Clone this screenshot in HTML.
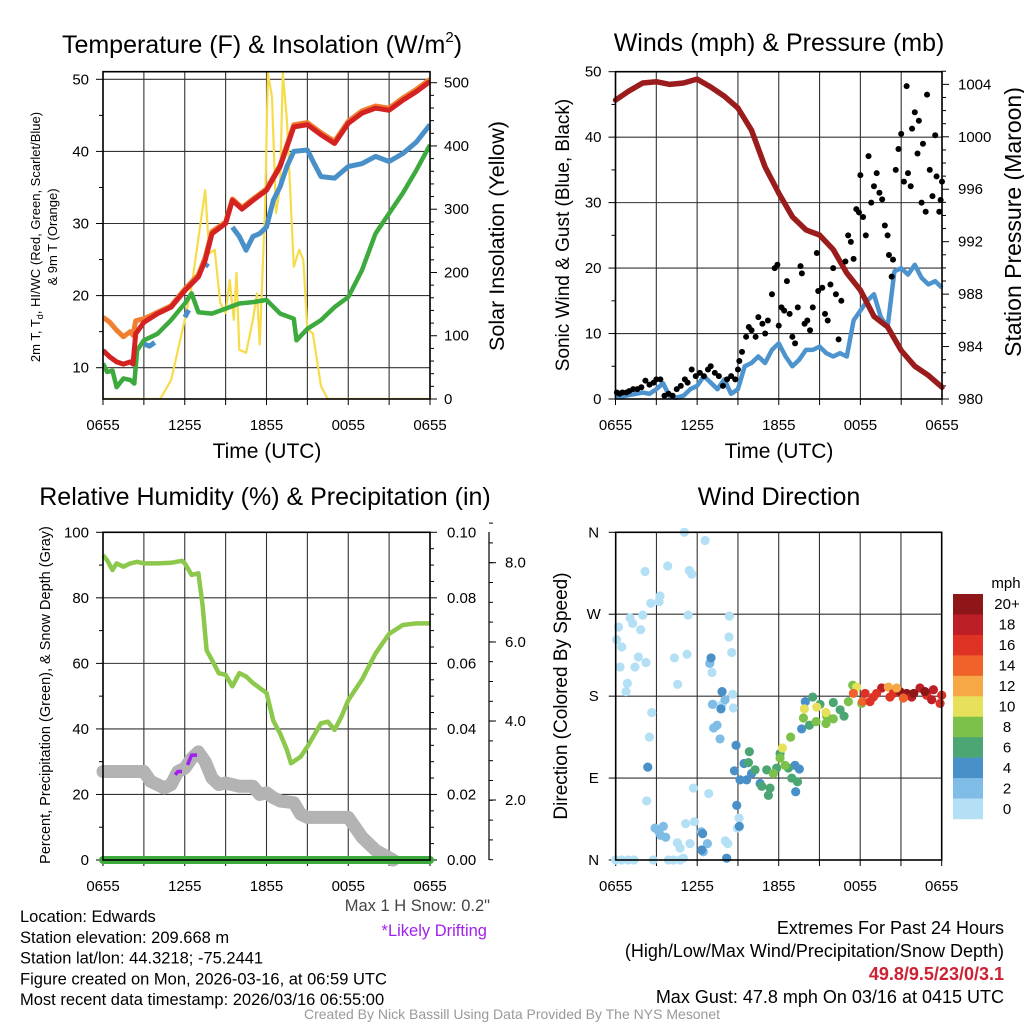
<!DOCTYPE html>
<html><head><meta charset="utf-8"><style>
html,body{margin:0;padding:0;background:#fff}
svg{display:block;font-family:"Liberation Sans",sans-serif}
</style></head><body>
<svg id="c" width="1024" height="1024" viewBox="0 0 1024 1024">
<rect width="1024" height="1024" fill="#fff"/>
</svg>
<script>
// ---- Data: temperature panel ----
const TEMP_T = [0,0.5,1,1.5,2,2.2,2.4,3,4,5,6,7,7.5,8,9,9.5,10.2,11,12,13,14,15,16,17,18,19,20,21,22,23,24];
const TEMP_2M = [12.4,11.5,10.8,10.5,10.8,10.5,14.7,16.3,17.5,18.4,20.7,22.6,24.9,28.6,30,33.2,32,33.2,34.6,37.9,43.4,43.7,42.3,41.1,43.9,45.3,46,45.7,47.1,48.3,49.7];
const TEMP_9M = [17,16.3,15.2,14.3,15,14.5,16.5,16.8,17.7,18.6,20.9,22.9,25.3,28.9,30.2,33.4,32.2,33.4,34.8,38.1,43.7,44,42.6,41.4,44.2,45.6,46.3,46,47.4,48.6,50];
const DEW_T = [0,0.3,0.7,1,1.5,2,2.3,2.5,3,4,5,6,6.5,7,8,9,10,11,12,13,14,14.2,15,16,17,18,19,20,21,22,23,24];
const DEW = [10.6,9.4,9.6,7.3,8.5,8.3,7.8,12.4,13.8,14.7,16.6,18.9,20.3,17.7,17.5,18.2,18.9,19.1,19.4,17.5,16.8,13.8,15.4,16.6,18.4,19.8,23.5,28.6,31.4,34.2,37.4,40.9];
const WC_T = [3,3.4,3.8,3.9,6.0,6.3,6.4,7.5,7.7,7.8,9.5,10,10.5,11,11.5,12,12.5,13,13.5,14,15,15.5,16,17,18,19,20,21,22,23,24];
const WC = [13.3,13,13.5,null,17,18,null,24,24.5,null,29.5,28.2,26.3,28.2,28.6,29.5,33.2,35.1,37.9,40,40.2,38.3,36.5,36.3,37.9,38.3,39.3,38.6,39.7,41.3,43.7];
const SOL_T = [0,4.2,5,6,6.5,7.5,7.8,8.2,8.6,9,9.3,9.6,9.8,10,10.5,11,11.3,11.5,11.9,12.1,12.4,12.7,13,13.2,13.5,14,14.4,14.7,15,15.4,16,16.5,24];
const SOLAR = [0,0,30,125,178,330,230,236,152,136,188,125,199,78,73,125,167,86,304,515,478,294,336,515,441,209,236,220,109,104,20,0,0];
// ---- Data: wind / pressure panel ----
const PRES_T = [0,1,2,3,4,5,6,7,8,9,10,11,12,13,14,15,16,17,18,19,20,21,22,23,24];
const PRES = [1002.8,1003.5,1004.1,1004.2,1004,1004.1,1004.4,1003.8,1003.1,1002.2,1000.5,997.7,995.7,993.9,992.9,992.5,991.4,989.6,988.3,986.3,985.5,983.7,982.5,981.8,980.9];
const WIND = [0.5,0.4,0.6,0.8,1.0,0.8,1.5,2.4,0.3,0.2,0.5,1.5,2.0,3.5,2.5,1.5,3.0,0.8,1.5,5.0,5.5,6.5,5.5,7.5,8.5,6.5,5.0,6.0,7.5,7.5,8.0,7.0,6.5,7.0,6.5,12.0,13.5,15.0,16.0,12.5,11.0,19.5,20.0,19.0,20.5,18.5,17.5,18.0,17.0];
const GUST_T = [0.1,0.3,0.5,0.8,1.0,1.3,1.6,1.9,2.2,2.5,2.8,3.0,3.3,3.6,3.9,4.2,4.5,4.8,5.1,5.3,5.6,5.9,6.2,6.5,6.8,7.0,7.3,7.6,7.9,8.2,8.5,8.8,9.0,9.1,9.3,9.6,9.8,10.0,10.3,10.5,10.8,11.0,11.2,11.5,11.7,11.9,12.0,12.2,12.4,12.6,12.8,13.0,13.2,13.4,13.6,13.7,13.9,14.1,14.3,14.5,14.8,14.9,15.2,15.4,15.6,15.8,16.0,16.2,16.4,16.6,16.9,17.1,17.3,17.5,17.7,17.9,18.0,18.2,18.4,18.6,18.8,19.0,19.2,19.4,19.6,19.8,20.0,20.1,20.3,20.4,20.6,20.8,21.0,21.2,21.4,21.5,21.7,21.8,22.0,22.2,22.3,22.5,22.6,22.8,22.9,23.1,23.3,23.5,23.6,23.8,23.9,24.0];
const GUST = [1,0.8,1,1,1.2,1.5,1.5,1.8,2.8,2.2,2.5,3.0,3.0,0.5,0.8,0.5,1.5,2.0,3.0,2.5,4.5,3.5,4.0,3.5,4.5,5.0,4.0,3.5,2.0,3.0,3.5,3.0,4.5,5.8,7.2,9.5,11.0,10.5,9.5,12.5,11.5,10.0,12.0,16.0,20.0,20.5,11.2,14.0,13.5,18.0,13.0,9.5,8.5,14.0,20.3,19.2,11.5,12.0,10.5,14.0,22.3,16.5,17.0,13.0,12.0,17.5,20.0,16.0,9.1,15.0,21.0,25.0,24.0,21.4,29.0,28.5,34.2,27.8,25.0,37.1,30.0,32.5,34.5,31.5,30.5,26.5,25.0,22.0,18.7,21.3,35.0,38.2,40.5,33.2,47.8,34.5,32.5,41.3,43.8,37.5,42.5,30.0,39.0,28.6,46.5,35.0,31.0,40.3,34.0,28.6,30.4,33.2];
// ---- Data: humidity panel ----
const RH_T = [0,0.3,0.7,1,1.5,2,2.5,3,4,5,5.8,6,6.5,7,7.3,7.6,8,8.5,9,9.5,10,10.5,11,12,12.5,13,13.5,13.8,14.5,15,16,16.5,17,17.5,18,19,20,21,22,23,24];
const RH = [93,91.5,88.5,90.5,89.5,90.5,91,90.5,90.5,90.7,91.3,90.5,87,87.5,78,64,61,57,56.5,53,57,56,54,51,42.5,38.6,33.6,29.5,31.5,34.6,41.7,42.2,39.7,43.7,48.8,55,63,69,71.7,72.2,72.2];
const SNOW_T = [0,3,3.5,4.5,5,5.5,6,6.5,7,7.5,8,8.5,9,10,11,11.5,12,12.5,13,14,14.5,15,16,17,18,18.5,19,20,21.3];
const SNOW = [27,27,24,22,23,27,28,31,33,30,25,23,23.5,22.5,22.5,20,20.5,19,18,17.5,14,13,13,13,13,10,7,3,0];
const DRIFT_T = [5.3,5.5,5.8,6.0,6.2,6.5,6.9];
const DRIFT = [26,27,27,null,29,32,32];
const PRECIP_T = [0,24];
const PRECIP = [0,0];
// ---- Data: wind direction panel ----
const DIR_T = [0.07,0.2,0.44,0.32,0.86,0.76,1.06,1.25,1.84,1.67,1.42,2.23,1.99,2.16,2.58,3.19,3.26,3.83,4.32,4.56,5.25,5.33,5.42,5.6,5.06,6.58,8.37,8.34,8.54,6.94,7.09,8.61,7.19,7.85,8.66,2.65,2.48,2.28,5.72,6.85,9.08,8.96,5.15,5.79,4.54,4.74,5.47,8.07,8.25,0,0.44,0.93,1.35,2.77,3.88,4.25,4.74,4.98,
2.9,3.51,3.68,3.19,3.31,6.75,6.45,6.31,6.92,7.46,7.21,7.68,7.12,8.05,
7.02,7.83,7.75,8.86,8.74,8.91,9.1,6.4,6.33,8.17,2.36,9.15,9.64,9.45,10.0,10.63,13.2,13.52,13.25,13.96,13.69,
9.84,9.77,10.26,10.75,11.24,11.36,11.12,11.85,12.71,12.96,13.38,12.1,14.5,15.04,16.02,16.52,16.81,14.26,
11.61,12.47,12.1,12.88,13.82,14.75,15.48,16.02,17.13,17.45,18.11,15.53,
12.27,13.89,14.8,15.48,17.74,
17.5,18.18,18.36,18.97,19.58,20.07,20.44,20.93,21.42,21.79,22.4,22.9,23.39,24,23.88,19.21,20.19,21.94,21.18,18.72,23.26,20.68,22.77];
const DIR_DEG = [242,256,234,212,194,185,266,260,253,223,212,217,269,317,282,284,290,323,222,193,226,269,318,314,360,351,268,245,228,216,206,182,171,171,167,162,135,65,79,73,46,35,40,42,19,13,18,21,18,0,0,0,0,0,0,0,0,2,
35,37,25,31,27,18,9,31,216,148,145,133,171,176,
222,185,166,126,98,60,37,29,11,2,102,88,88,106,95,84,104,100,75,174,144,
119,107,99,81,71,79,99,101,101,90,86,117,179,171,173,165,158,148,
95,104,112,135,156,152,150,155,174,192,172,158,
123,166,168,162,190,
183,174,183,179,189,190,183,185,183,179,189,181,187,181,172,183,179,183,178,174,176,189,185];
const DIR_SPD = [1,1,1,1,1,1,1,1,1,1,1,1,1,1,1,1,1,1,1,1,1,1,1,1,1,1,1,1,1,1,1,1,1,1,1,1,1,1,1,1,1,1,1,1,1,1,1,1,1,1,1,1,1,1,1,1,1,1,
3,3,3,3,3,3,3,3,3,3,3,3,3,3,
5,5,5,5,5,5,5,5,5,5,5,5,5,5,5,5,5,5,5,5,5,
7,7,7,7,7,7,7,7,7,7,7,7,7,7,7,7,7,7,
9,9,9,9,9,9,9,9,9,9,9,9,
11,11,11,11,11,
15,15,17,17,19,13,17,21,21,19,19,17,19,17,17,17,17,21,15,17,19,13,21];
const CB_LABELS = ["20+","18","16","14","12","10","8","6","4","2","0"];
const CB_COLORS = ["#8e1619","#be1e25","#dd3224","#f0622a","#f5a845","#e6e05a","#7cc24a","#4ba673","#4a90c8","#7fbde6","#b3e0f5"];
const XTICK_LABELS = ["0655","1255","1855","0055","0655"];

const NS="http://www.w3.org/2000/svg";
const svg=document.getElementById('c');
function mk(tag,attrs,parent){const e=document.createElementNS(NS,tag);for(const k in attrs)e.setAttribute(k,attrs[k]);(parent||svg).appendChild(e);return e;}
function txt(s,x,y,size,anchor,fill,parent,extra){const e=mk('text',{x:x,y:y,'font-size':size,'text-anchor':anchor||'start',fill:fill||'#000'},parent);if(extra)for(const k in extra)e.setAttribute(k,extra[k]);e.textContent=s;return e;}
function pathFrom(ts,vs,xf,yf){let d='',pen=false;for(let i=0;i<ts.length;i++){if(vs[i]===null){pen=false;continue;}d+=(pen?'L':'M')+xf(ts[i]).toFixed(1)+' '+yf(vs[i]).toFixed(1);pen=true;}return d;}
function xs(p){return t=>p.x0+t/24*(p.x1-p.x0);}
const TK=15;

function frame(p,name){
  const g=mk('g',{});
  
  
  const X=xs(p);
  for(let h=0;h<=24;h+=3){
    const l=mk('line',{x1:X(h),x2:X(h),y1:p.yT,y2:p.yB,stroke:'#333','stroke-width':1.1},g);
    
    
    mk('line',{x1:X(h),x2:X(h),y1:p.yB,y2:p.yB+6,stroke:'#000','stroke-width':1},g);
  }
  for(let i=0;i<5;i++){
    const t=txt(XTICK_LABELS[i],X(i*6),p.yB+31,TK,'middle','#000',g);
    
    
  }
  return g;
}
function border(p){mk('rect',{x:p.x0,y:p.yT,width:p.x1-p.x0,height:p.yB-p.yT,fill:'none',stroke:'#000','stroke-width':1.6});}
function hgrid(p,g,y){mk('line',{x1:p.x0,x2:p.x1,y1:y,y2:y,stroke:'#333','stroke-width':1.1},g);}

// ===== Panel 1 =====
const P1={x0:103,x1:430,yT:71.7,yB:399};
const Y1=v=>367.7-(v-10)*7.21, S1=s=>399-s*0.6326;
{
  const g=frame(P1,'temperature-panel');const X=xs(P1);
  [10,20,30,40,50].forEach(v=>{hgrid(P1,g,Y1(v));mk('line',{x1:P1.x0-7,x2:P1.x0,y1:Y1(v),y2:Y1(v),stroke:'#000'},g);const t=txt(String(v),P1.x0-14,Y1(v)+5,TK,'end','#000',g);});
  [15,25,35,45].forEach(v=>mk('line',{x1:P1.x0-4,x2:P1.x0,y1:Y1(v),y2:Y1(v),stroke:'#000'},g));
  for(let s=0;s<=500;s+=20){mk('line',{x1:P1.x1,x2:P1.x1+(s%100?4:7),y1:S1(s),y2:S1(s),stroke:'#000'},g);}
  for(let s=0;s<=500;s+=100){const t=txt(String(s),P1.x1+14,S1(s)+5,TK,'start','#000',g);}
  const cl=mk('clipPath',{id:'cp1'});mk('rect',{x:P1.x0,y:P1.yT,width:P1.x1-P1.x0,height:P1.yB-P1.yT},cl);
  const d=mk('g',{'clip-path':'url(#cp1)'});
  let e;
  e=mk('path',{d:pathFrom(SOL_T,SOLAR,X,S1),fill:'none',stroke:'#f7dc4a','stroke-width':2.2,'stroke-linejoin':'round'},d);
  
  e=mk('path',{d:pathFrom(DEW_T,DEW,X,Y1),fill:'none',stroke:'#3daa3d','stroke-width':4.5,'stroke-linejoin':'round'},d);
  
  e=mk('path',{d:pathFrom(WC_T,WC,X,Y1),fill:'none',stroke:'#4a90c8','stroke-width':5,'stroke-linejoin':'round'},d);
  
  e=mk('path',{d:pathFrom(TEMP_T,TEMP_9M,X,Y1),fill:'none',stroke:'#f08030','stroke-width':5,'stroke-linejoin':'round'},d);
  
  e=mk('path',{d:pathFrom(TEMP_T,TEMP_2M,X,Y1),fill:'none',stroke:'#d42222','stroke-width':5,'stroke-linejoin':'round'},d);
  
  border(P1);
  const tt=txt('Temperature (F) & Insolation (W/m',262,53,25,'middle');
  const sup=mk('tspan',{'font-size':15,dy:-11},tt);sup.textContent='2';
  const cl2=mk('tspan',{dy:11},tt);cl2.textContent=')';
  
  const a=txt('Time (UTC)',267,458,21,'middle');
  const l1=txt('',40,237,13,'middle','#000',null,{transform:'rotate(-90 40 237)'});
  l1.appendChild(document.createTextNode('2m T, T'));const sb=mk('tspan',{'font-size':9,dy:3},l1);sb.textContent='d';const rest=mk('tspan',{dy:-3},l1);rest.textContent=', HI/WC (Red, Green, Scarlet/Blue)';
  
  const l2=txt('& 9m T (Orange)',57,237,13,'middle','#000',null,{transform:'rotate(-90 57 237)'});
  const r=txt('Solar Insolation (Yellow)',504,236,21.5,'middle','#000',null,{transform:'rotate(-90 504 236)'});
}
// ===== Panel 2 =====
const P2={x0:615.5,x1:942,yT:71.7,yB:399};
const Y2=v=>399-v*6.546, S2=p=>399-(p-980)*13.11;
{
  const g=frame(P2,'wind-pressure-panel');const X=xs(P2);
  [0,10,20,30,40,50].forEach(v=>{hgrid(P2,g,Y2(v));mk('line',{x1:P2.x0-7,x2:P2.x0,y1:Y2(v),y2:Y2(v),stroke:'#000'},g);const t=txt(String(v),P2.x0-14,Y2(v)+5,TK,'end','#000',g);});
  [5,15,25,35,45].forEach(v=>mk('line',{x1:P2.x0-4,x2:P2.x0,y1:Y2(v),y2:Y2(v),stroke:'#000'},g));
  for(let p=980;p<=1005;p+=1){mk('line',{x1:P2.x1,x2:P2.x1+(p%4?4:7),y1:S2(p),y2:S2(p),stroke:'#000'},g);}
  for(let p=980;p<=1004;p+=4){const t=txt(String(p),P2.x1+16,S2(p)+5,TK,'start','#000',g);}
  const cl=mk('clipPath',{id:'cp2'});mk('rect',{x:P2.x0-3,y:P2.yT-3,width:P2.x1-P2.x0+6,height:P2.yB-P2.yT+4},cl);
  const d=mk('g',{'clip-path':'url(#cp2)'});
  const WT=WIND.map((v,i)=>i*0.5);
  let e=mk('path',{d:pathFrom(WT,WIND,X,Y2),fill:'none',stroke:'#4d94cf','stroke-width':4.5,'stroke-linejoin':'round'},d);
  
  e=mk('path',{d:pathFrom(PRES_T,PRES,X,S2),fill:'none',stroke:'#9b1c1c','stroke-width':5.5,'stroke-linejoin':'round','stroke-linecap':'round'},d);
  
  for(let i=0;i<GUST_T.length;i++){const c=mk('circle',{cx:X(GUST_T[i]),cy:Y2(GUST[i]),r:3,fill:'#000'},d);
    
    }
  border(P2);
  const tt=txt('Winds (mph) & Pressure (mb)',779,51,25,'middle');
  const a=txt('Time (UTC)',779,458,21,'middle');
  const l=txt('Sonic Wind & Gust (Blue, Black)',569,235,19,'middle','#000',null,{transform:'rotate(-90 569 235)'});
  const r=txt('Station Pressure (Maroon)',1021,222,23,'middle','#000',null,{transform:'rotate(-90 1021 222)'});
}
// ===== Panel 3 =====
const P3={x0:103,x1:430,yT:532.3,yB:860};
const Y3=v=>860-v*3.277;
{
  const g=frame(P3,'humidity-panel');const X=xs(P3);
  const rl=["0.00","0.02","0.04","0.06","0.08","0.10"];
  [0,20,40,60,80,100].forEach((v,i)=>{hgrid(P3,g,Y3(v));mk('line',{x1:P3.x0-7,x2:P3.x0,y1:Y3(v),y2:Y3(v),stroke:'#000'},g);const t=txt(String(v),P3.x0-14,Y3(v)+5,TK,'end','#000',g);
    const r=txt(rl[i],P3.x1+17,Y3(v)+5,TK,'start','#000',g);});
  for(let v=0;v<=100;v+=5){mk('line',{x1:P3.x1,x2:P3.x1+(v%20?4:7),y1:Y3(v),y2:Y3(v),stroke:'#000'},g);}
  [10,30,50,70,90].forEach(v=>mk('line',{x1:P3.x0-4,x2:P3.x0,y1:Y3(v),y2:Y3(v),stroke:'#000'},g));
  mk('line',{x1:489,x2:489,y1:532,y2:860,stroke:'#000','stroke-width':1.2},g);
  const sl=[["8.0",562.7],["6.0",642],["4.0",721],["2.0",800]];
  sl.forEach(s=>{mk('line',{x1:489,x2:496,y1:s[1],y2:s[1],stroke:'#000'},g);const t=txt(s[0],505,s[1]+5,TK,'start','#000',g);});
  for(let y=562.7-39.6;y<860;y+=19.8){mk('line',{x1:489,x2:493,y1:y,y2:y,stroke:'#000'},g);}
  const cl=mk('clipPath',{id:'cp3'});mk('rect',{x:P3.x0-12,y:P3.yT,width:P3.x1-P3.x0+24,height:P3.yB-P3.yT+12},cl);
  const d=mk('g',{'clip-path':'url(#cp3)'});
  let e=mk('path',{d:pathFrom(SNOW_T,SNOW,X,Y3),fill:'none',stroke:'#b3b3b3','stroke-width':13,'stroke-linejoin':'round','stroke-linecap':'round'},d);
  
  e=mk('path',{d:pathFrom(DRIFT_T,DRIFT,X,Y3),fill:'none',stroke:'#a020f0','stroke-width':3.5},d);
  
  e=mk('path',{d:pathFrom(RH_T,RH,X,Y3),fill:'none',stroke:'#8cc84b','stroke-width':4.5,'stroke-linejoin':'round'},d);
  
  e=mk('path',{d:pathFrom(PRECIP_T,PRECIP.map(v=>v*1000),X,Y3),fill:'none',stroke:'#3daa3d','stroke-width':8,'stroke-linecap':'round'},d);
  
  border(P3);
  const tt=txt('Relative Humidity (%) & Precipitation (in)',265,505,25,'middle');
  const l=txt('Percent, Precipitation (Green), & Snow Depth (Gray)',50,695,14.5,'middle','#000',null,{transform:'rotate(-90 50 695)'});
}
// ===== Panel 4 =====
const P4={x0:615.7,x1:941.7,yT:532.3,yB:860};
const Y4=deg=>860-deg*0.9103;
{
  const g=frame(P4,'wind-direction-panel');const X=xs(P4);
  const dl=["N","E","S","W","N"];
  [0,90,180,270,360].forEach((v,i)=>{hgrid(P4,g,Y4(v));mk('line',{x1:P4.x0-7,x2:P4.x0,y1:Y4(v),y2:Y4(v),stroke:'#000'},g);const t=txt(dl[i],P4.x0-22,Y4(v)+5,TK,'middle','#000',g);});
  const cl=mk('clipPath',{id:'cp4'});mk('rect',{x:P4.x0-6,y:P4.yT-6,width:P4.x1-P4.x0+12,height:P4.yB-P4.yT+12},cl);
  const d=mk('g',{'clip-path':'url(#cp4)'});
  for(let i=0;i<DIR_T.length;i++){
    const b=Math.min(10,Math.floor(DIR_SPD[i]/2));
    const c=mk('circle',{cx:X(DIR_T[i]),cy:Y4(DIR_DEG[i]),r:4.6,fill:CB_COLORS[10-b]},d);
    
    
  }
  border(P4);
  const tt=txt('Wind Direction',779,505,25,'middle');
  const l=txt('Direction (Colored By Speed)',567,696,19,'middle','#000',null,{transform:'rotate(-90 567 696)'});
  const cb=mk('g',{});
  const h=(819-594)/11;
  for(let i=0;i<11;i++){mk('rect',{x:953,y:594+i*h,width:30,height:h+0.3,fill:CB_COLORS[i]},cb);
    const t=txt(CB_LABELS[i],1007,594+i*h+h/2+5,TK,'middle','#000',cb);}
  const m=txt('mph',1006,588,TK,'middle','#000',cb);
}
// ===== Footer =====
{
  const info=["Location: Edwards","Station elevation: 209.668 m","Station lat/lon: 44.3218; -75.2441","Figure created on Mon, 2026-03-16, at 06:59 UTC","Most recent data timestamp: 2026/03/16 06:55:00"];
  info.forEach((s,i)=>{const t=txt(s,20,922+i*20.8,16.5);});
  let t=txt('Max 1 H Snow: 0.2"',490,911,16.5,'end','#444');
  t=txt('*Likely Drifting',487,936,16.5,'end','#a020f0');
  t=txt('Extremes For Past 24 Hours',1004,934,18,'end');
  t=txt('(High/Low/Max Wind/Precipitation/Snow Depth)',1004,957,18,'end');
  t=txt('49.8/9.5/23/0/3.1',1004,980,18,'end','#cc2233',null,{'font-weight':'bold'});
  t=txt('Max Gust: 47.8 mph On 03/16 at 0415 UTC',1004,1003,18,'end');
  t=txt('Created By Nick Bassill Using Data Provided By The NYS Mesonet',512,1019,14,'middle','#999');
}
</script>
</body></html>
